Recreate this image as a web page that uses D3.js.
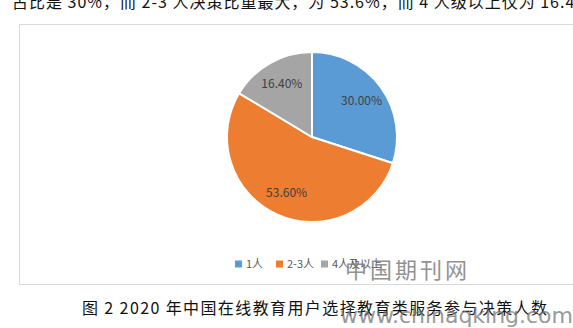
<!DOCTYPE html>
<html>
<head>
<meta charset="utf-8">
<script src="https://cdn.jsdelivr.net/npm/d3@7"></script>
<style>
  body { margin: 0; background: #fff; }
  svg { display: block; }
</style>
</head>
<body>
<script>
// data
const categories = ["1人", "2-3人", "4人及以上"];
const values = [30.0, 53.6, 16.4];
const labels = ["30.00%", "53.60%", "16.40%"];
const colors = ["#5b9bd5", "#ed7d31", "#a5a5a5"];

const W = 573, H = 328;
const svg = d3.select("body").append("svg")
    .attr("width", W)
    .attr("height", H);

const serif = "'Noto Sans CJK SC', 'DejaVu Serif', serif";
const sans = "'Noto Sans CJK SC', 'Liberation Sans', sans-serif";

// clipped line of body text above the chart
svg.append("text")
    .attr("x", 12)
    .attr("y", 8)
    .attr("textLength", 578)
    .style("font-family", serif)
    .style("font-size", "16px")
    .style("fill", "#111")
    .text("占比是 30%，而 2-3 人决策比重最大，为 53.6%，而 4 人级以上仅为 16.4%");

// chart frame
svg.append("rect")
    .attr("x", 19.5)
    .attr("y", 24.5)
    .attr("width", 600)
    .attr("height", 260)
    .style("fill", "#fff")
    .style("stroke", "#d9d9d9")
    .style("stroke-width", 1);

// pie
const cx = 312, cy = 137, r = 85;
const pie = d3.pie().sort(null).value(d => d)(values);
const arc = d3.arc().innerRadius(0).outerRadius(r);

const g = svg.append("g").attr("transform", "translate(" + cx + "," + cy + ")");

g.selectAll("path")
    .data(pie)
    .enter().append("path")
    .attr("d", arc)
    .style("fill", (d, i) => colors[i])
    .style("stroke", "#fff")
    .style("stroke-width", 2);

const labelArc = d3.arc().innerRadius(r * 0.72).outerRadius(r * 0.72);
g.selectAll(".lbl")
    .data(pie)
    .enter().append("text")
    .attr("class", "lbl")
    .attr("transform", d => "translate(" + labelArc.centroid(d) + ")")
    .attr("dy", "0.35em")
    .style("text-anchor", "middle")
    .style("font-family", sans)
    .style("font-size", "12px")
    .style("fill", "#404040")
    .text((d, i) => labels[i]);

// legend
const legendX = [235, 276, 321];
const legend = svg.selectAll(".legend")
    .data(categories)
    .enter().append("g")
    .attr("class", "legend")
    .attr("transform", (d, i) => "translate(" + legendX[i] + ",264)");

legend.append("rect")
    .attr("x", 0)
    .attr("y", -3.5)
    .attr("width", 7)
    .attr("height", 7)
    .style("fill", (d, i) => colors[i]);

legend.append("text")
    .attr("x", 11)
    .attr("dy", "0.35em")
    .style("font-family", sans)
    .style("font-size", "11px")
    .style("fill", "#595959")
    .text(d => d);

// caption
svg.append("text")
    .attr("x", 82)
    .attr("y", 314)
    .attr("textLength", 465)
    .style("font-family", serif)
    .style("font-size", "16px")
    .style("fill", "#111")
    .text("图 2  2020 年中国在线教育用户选择教育类服务参与决策人数");

// watermark
svg.append("text")
    .attr("x", 345)
    .attr("y", 278)
    .attr("textLength", 122)
    .style("font-family", serif)
    .style("font-size", "22px")
    .style("fill", "#777")
    .style("opacity", 0.8)
    .text("中国期刊网");

svg.append("text")
    .attr("x", 340)
    .attr("y", 323)
    .attr("textLength", 233)
    .style("font-family", "'DejaVu Sans', sans-serif")
    .style("font-size", "22px")
    .style("fill", "#777")
    .style("opacity", 0.75)
    .text("www.chinaqking.com");
</script>
</body>
</html>
